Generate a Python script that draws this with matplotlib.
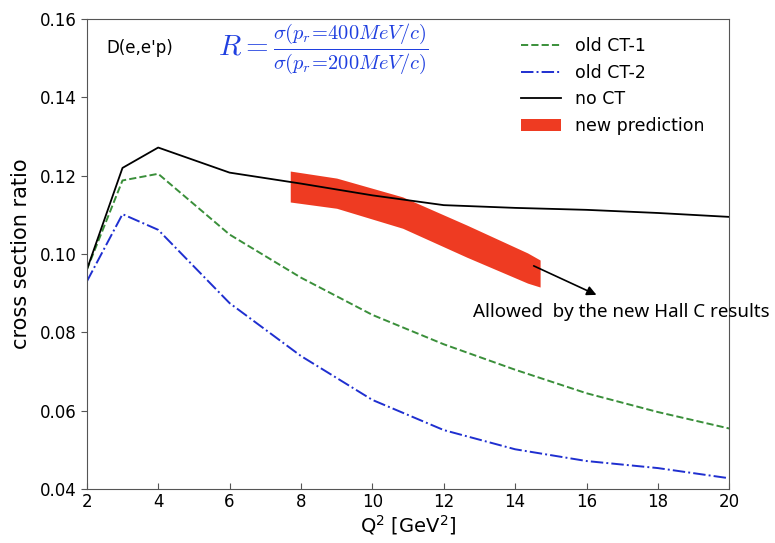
import numpy as np
import matplotlib.pyplot as plt

# Q^2 grid and model curves
q2 = [2, 3, 4, 6, 8, 10, 12, 14, 16, 18, 20]
noCT = [0.096, 0.1220, 0.1272, 0.1208, 0.1180, 0.1150, 0.1125, 0.1118, 0.1113, 0.1105, 0.1095]
oldCT1 = [0.096, 0.1188, 0.1205, 0.1050, 0.0940, 0.0845, 0.0770, 0.0705, 0.0645, 0.0597, 0.0555]
oldCT2 = [0.093, 0.1102, 0.1062, 0.0875, 0.0740, 0.0628, 0.0551, 0.0502, 0.0472, 0.0454, 0.0428]

# new prediction band
bandQ2 = [7.7, 9.0, 10.85, 12.65, 14.35, 14.7]
bandUp = [0.1212, 0.1194, 0.1146, 0.1074, 0.1003, 0.0985]
bandLo = [0.1133, 0.1117, 0.1066, 0.0992, 0.0926, 0.0916]

fig = plt.figure(figsize=[7.75, 5.43], dpi=100)
ax = fig.add_axes([0.112, 0.099, 0.829, 0.866])

ax.plot(q2, oldCT1, '--', color='#3a8f3a', lw=1.4, label='old CT-1')
ax.plot(q2, oldCT2, '-.', color='#1f2fd0', lw=1.4, label='old CT-2')
ax.plot(q2, noCT, '-', color='black', lw=1.3, label='no CT')
ax.fill_between(bandQ2, bandLo, bandUp, color='#ee3b22', lw=0, label='new prediction')

ax.set_xlim(2, 20)
ax.set_ylim(0.04, 0.16)
ax.set_xticks(np.arange(2, 21, 2))
ax.set_yticks(np.arange(0.04, 0.161, 0.02))
ax.set_yticklabels(["0.04", "0.06", "0.08", "0.10", "0.12", "0.14", "0.16"])
ax.tick_params(axis='x', direction='in', labelsize=12, length=4, color='#555555', pad=3)
ax.tick_params(axis='y', direction='out', labelsize=12, length=4, color='#555555')
for s in ax.spines.values():
    s.set_color('#555555')

ax.set_xlabel("Q$^2$ [GeV$^2$]", fontsize=14, labelpad=1)
ax.set_ylabel("cross section ratio", fontsize=15, labelpad=6)

ax.text(2.56, 0.1526, "D(e,e'p)", fontsize=12, va='center')
ax.text(5.67, 0.1522, r"$R = \frac{\sigma(p_r\!=\!400MeV/c)}{\sigma(p_r\!=\!200MeV/c)}$",
        fontsize=21, color='#1f3fe0', va='center', math_fontfamily='cm')

ax.legend(loc='upper right', frameon=False, fontsize=12.5, bbox_to_anchor=(0.985, 0.995),
          handlelength=2.3, labelspacing=0.5, handletextpad=0.8)

ax.annotate("", xy=(16.35, 0.0893), xytext=(14.45, 0.0973),
            arrowprops=dict(arrowstyle='-|>', color='black', lw=1.2, mutation_scale=14))
ax.text(12.82, 0.0852, "Allowed  by the new Hall C results", fontsize=13.5,
        family='Noto Sans', va='center', clip_on=False)

fig.savefig("out.png")
